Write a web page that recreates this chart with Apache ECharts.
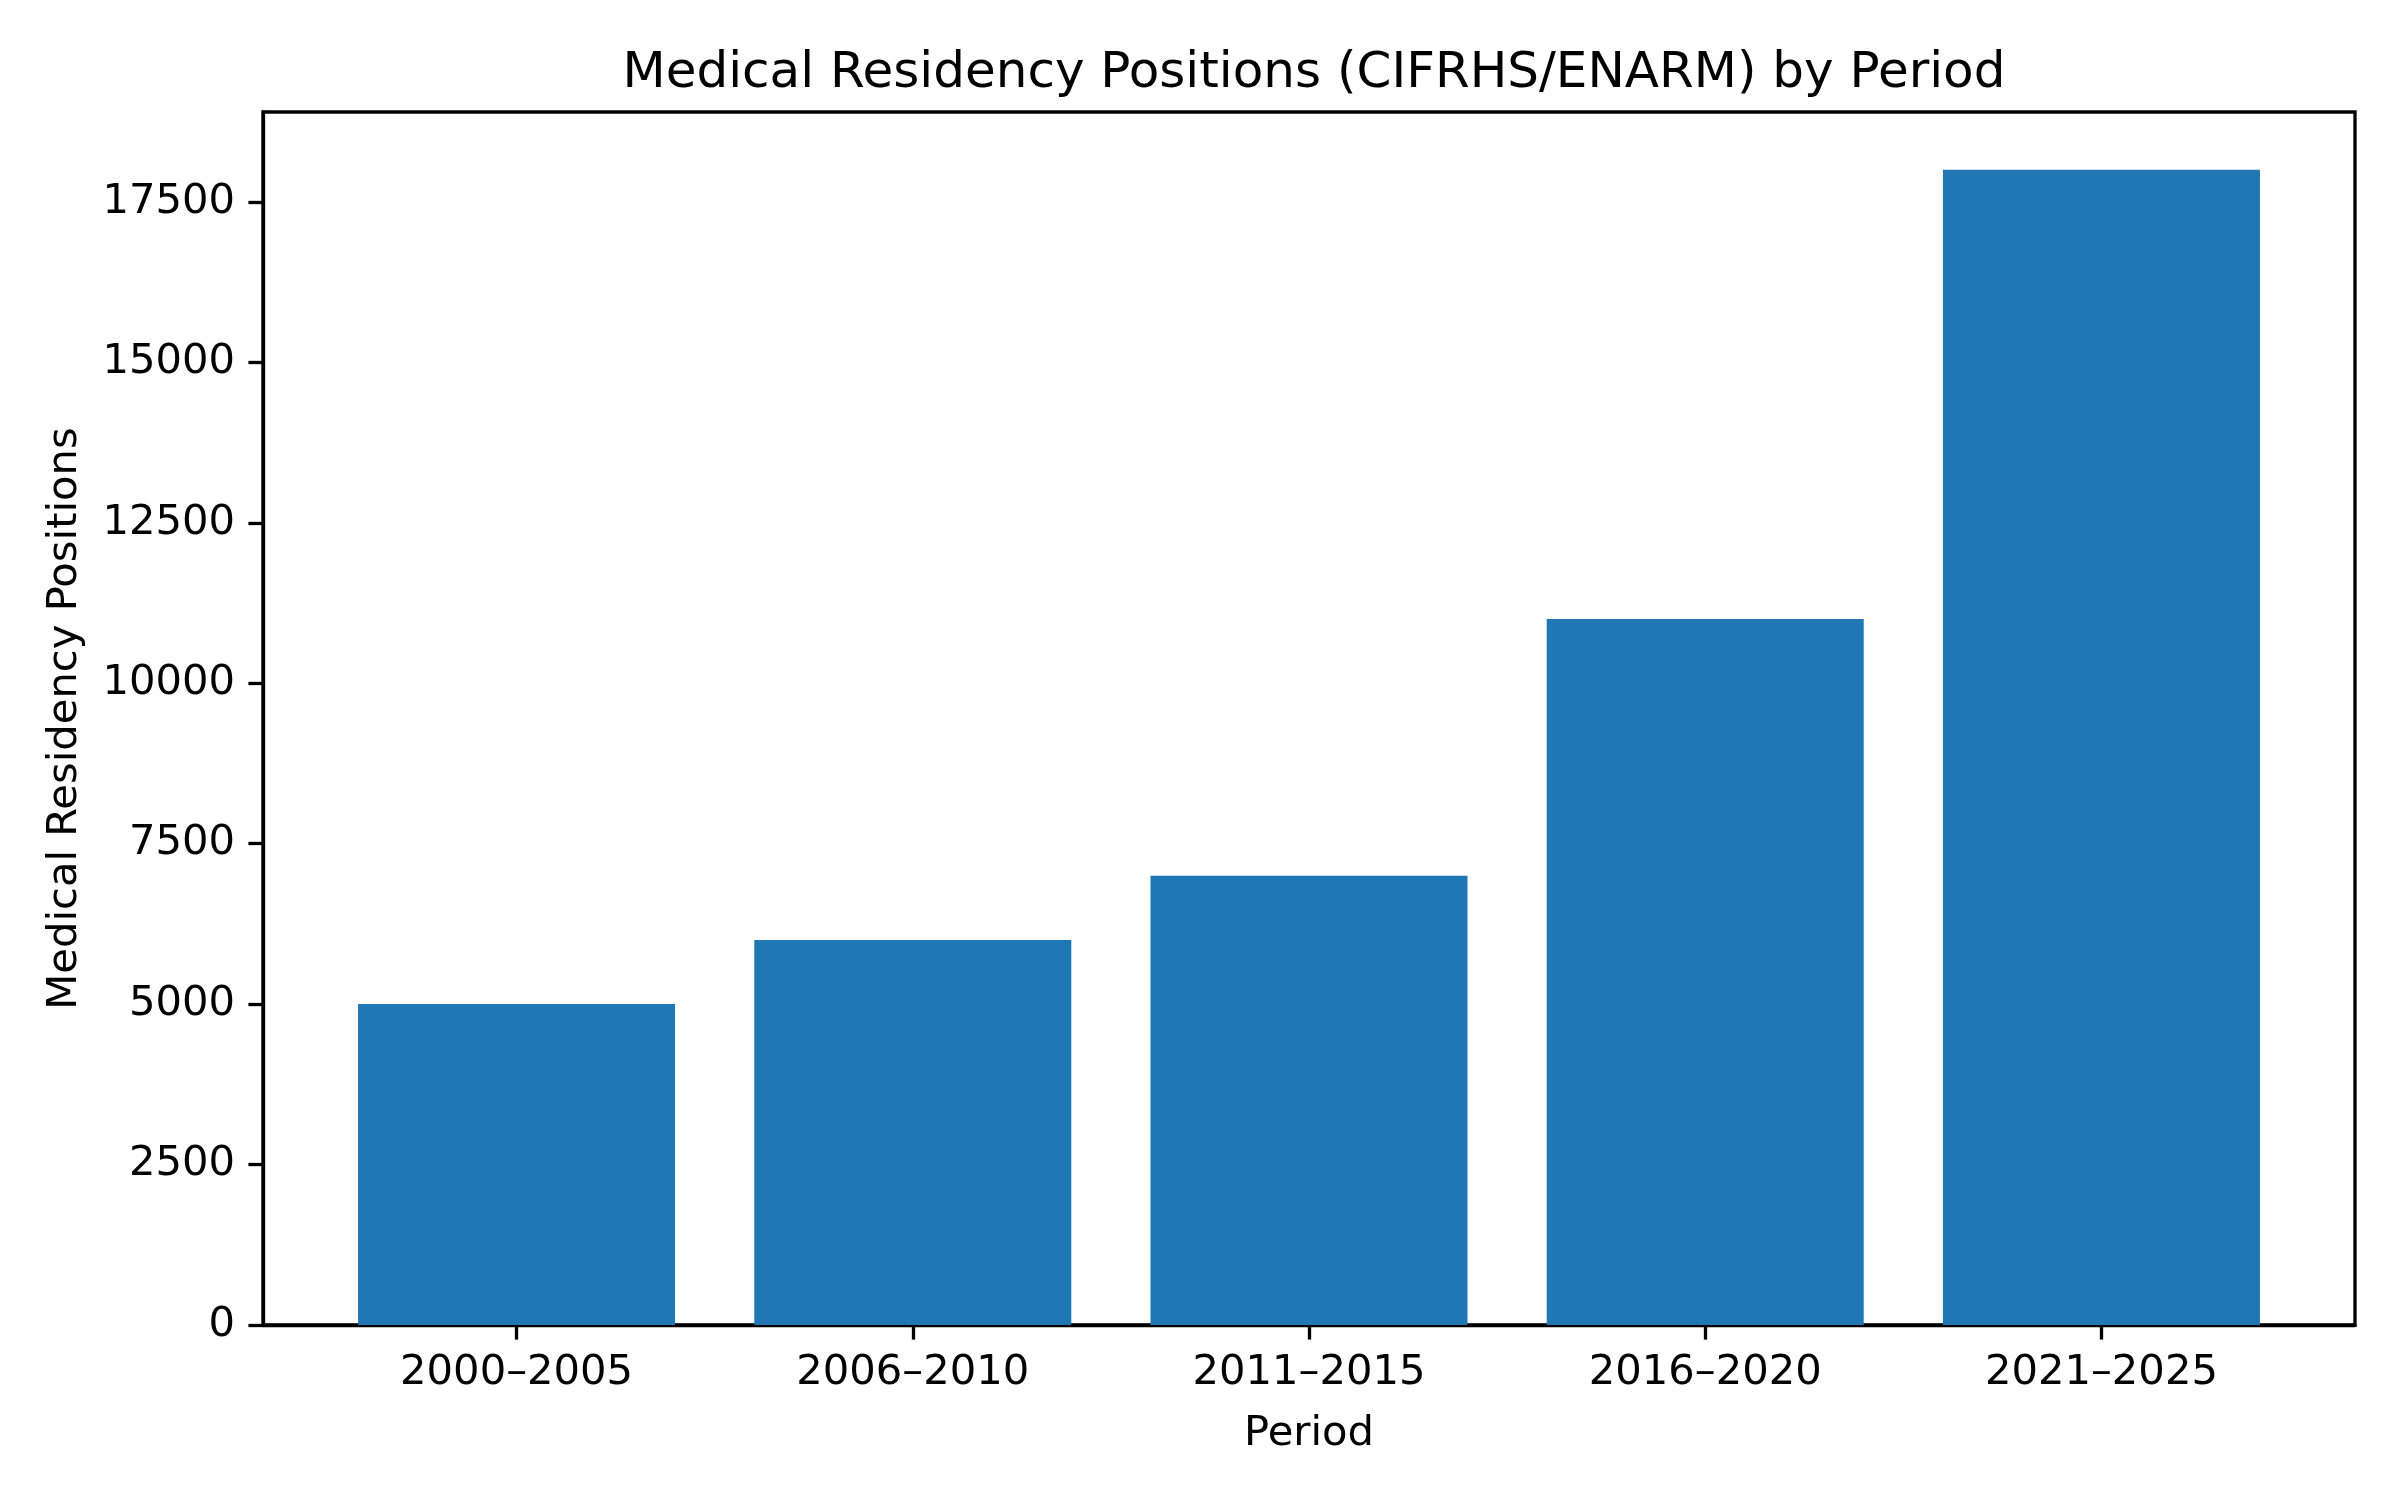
<!DOCTYPE html>
<html>
<head>
<meta charset="utf-8">
<script src="https://cdn.jsdelivr.net/npm/echarts@6/dist/echarts.min.js"></script>
<style>html,body{margin:0;padding:0;background:#fff}#chart{width:2400px;height:1500px}</style>
</head>
<body>
<div id="chart"></div>
<script>
const categories = ['2000\u20132005', '2006\u20132010', '2011\u20132015', '2016\u20132020', '2021\u20132025'];
const positions = [5000, 6000, 7000, 11000, 18000];
const yTicks = [0, 2500, 5000, 7500, 10000, 12500, 15000, 17500];
const chartTitle = 'Medical Residency Positions (CIFRHS/ENARM) by Period';
const xName = 'Period';
const yName = 'Medical Residency Positions';

const font = 'DejaVu Sans';
const chart = echarts.init(document.getElementById('chart'));
const catIdx = categories.map((c, i) => i);
chart.setOption({
  animation: false,
  backgroundColor: '#ffffff',
  title: {
    text: chartTitle, left: 1309, textAlign: 'center', top: 44,
    textStyle: { fontFamily: font, fontSize: 50, fontWeight: 'normal', color: '#000' }
  },
  grid: { left: 263, right: 45, top: 112, bottom: 175, show: true, borderColor: '#000', borderWidth: 3.3, backgroundColor: 'transparent' },
  xAxis: {
    type: 'value', min: -0.64, max: 4.64,
    name: xName, nameLocation: 'middle', nameGap: 88,
    nameTextStyle: { fontFamily: font, fontSize: 41.7, color: '#000' },
    axisLine: { show: true, onZero: false, lineStyle: { color: '#000', width: 3.3 } },
    axisTick: { show: true, length: 14.6, lineStyle: { color: '#000', width: 3.3 }, customValues: catIdx },
    axisLabel: { fontFamily: font, fontSize: 41.7, color: '#000', margin: 27, customValues: catIdx, formatter: v => categories[Math.round(v)] },
    splitLine: { show: false }
  },
  yAxis: {
    type: 'value', min: 0, max: 18900,
    name: yName, nameLocation: 'middle', nameGap: 177, nameRotate: 90,
    nameTextStyle: { fontFamily: font, fontSize: 41.7, color: '#000' },
    axisLine: { show: true, onZero: false, lineStyle: { color: '#000', width: 3.3 } },
    axisTick: { show: true, length: 14.6, lineStyle: { color: '#000', width: 3.3 }, customValues: yTicks },
    axisLabel: { fontFamily: font, fontSize: 41.7, color: '#000', margin: 28, customValues: yTicks, formatter: v => String(v) },
    splitLine: { show: false }
  },
  series: [{
    type: 'bar',
    data: positions.map((v, i) => [i, v]),
    barWidth: 317,
    itemStyle: { color: '#1f77b4' }
  }]
});
</script>
</body>
</html>
